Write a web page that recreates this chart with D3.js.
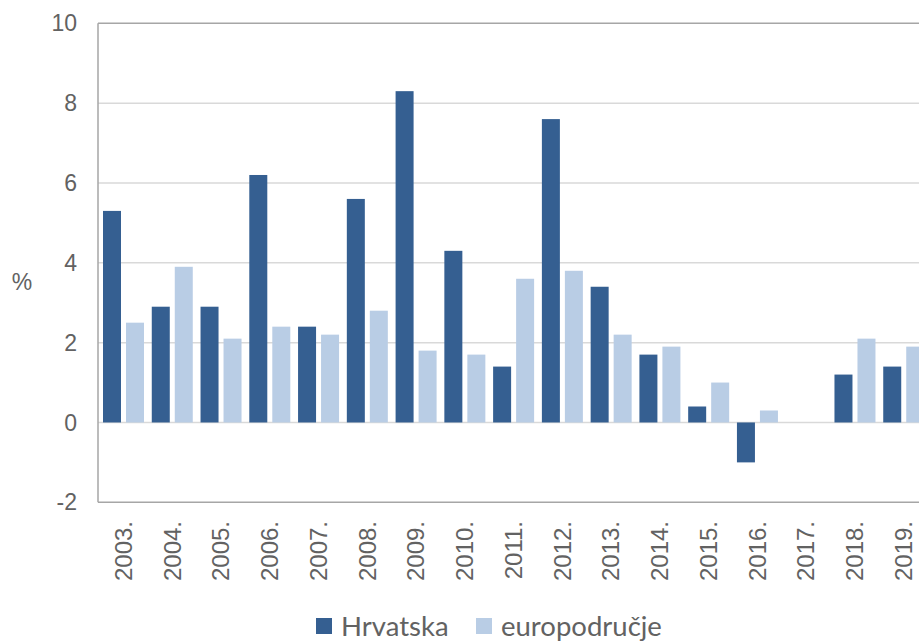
<!DOCTYPE html>
<html><head><meta charset="utf-8">
<script src="https://cdn.jsdelivr.net/npm/d3@7"></script>
<style>body{margin:0;background:#fff;overflow:hidden}svg{display:block}</style>
</head><body>
<script>
const years = ["2003.","2004.","2005.","2006.","2007.","2008.","2009.","2010.","2011.","2012.","2013.","2014.","2015.","2016.","2017.","2018.","2019."];
const seriesNames = ["Hrvatska","europodručje"];
const hrvatska = [5.3,2.9,2.9,6.2,2.4,5.6,8.3,4.3,1.4,7.6,3.4,1.7,0.4,-1.0,null,1.2,1.4];
const euro = [2.5,3.9,2.1,2.4,2.2,2.8,1.8,1.7,3.6,3.8,2.2,1.9,1.0,0.3,null,2.1,1.9];
const yTicks = [-2,0,2,4,6,8,10];
const colors = ["#355F91","#B9CDE5"];

(function(){
const W=919,H=641;
const svg=d3.select("body").append("svg").attr("width",W).attr("height",H);
const pL=98, pR=927, pT=23.3, pB=502.3;
const y=d3.scaleLinear().domain([-2,10]).range([pB,pT]);
const x0=d3.scaleBand().domain(years).range([pL,pR]);
const x1=d3.scaleBand().domain(seriesNames).range([5,46]).paddingInner(5/23);
const txt="#626262";
const ff="Liberation Sans, Arial, sans-serif";

svg.append("g").selectAll("line").data(yTicks.filter(t=>t>-2&&t<10)).join("line")
  .attr("x1",pL).attr("x2",pR).attr("y1",d=>y(d)).attr("y2",d=>y(d))
  .attr("stroke","#d9d9d9").attr("stroke-width",1.5);

const data=[hrvatska,euro];
seriesNames.forEach((s,si)=>{
  svg.append("g").selectAll("rect").data(years.map((yr,i)=>({yr,v:data[si][i]})).filter(d=>d.v!==null)).join("rect")
    .attr("x",d=>x0(d.yr)+x1(s)).attr("width",x1.bandwidth())
    .attr("y",d=>y(Math.max(0,d.v))).attr("height",d=>Math.abs(y(d.v)-y(0)))
    .attr("fill",colors[si]);
});

svg.append("line").attr("x1",pL).attr("x2",pR).attr("y1",pT).attr("y2",pT).attr("stroke","#a6a6a6").attr("stroke-width",1.5);
svg.append("line").attr("x1",pL).attr("x2",pR).attr("y1",pB).attr("y2",pB).attr("stroke","#a6a6a6").attr("stroke-width",1.5);
svg.append("line").attr("x1",pL).attr("x2",pL).attr("y1",pT).attr("y2",pB).attr("stroke","#a6a6a6").attr("stroke-width",1.5);

svg.append("g").selectAll("text").data(yTicks).join("text")
  .attr("x",77).attr("y",d=>y(d)).attr("dy","0.35em").attr("text-anchor","end")
  .attr("font-family",ff).attr("font-size",23).attr("fill",txt)
  .text(d=>d);

svg.append("g").selectAll("text").data(years).join("text")
  .attr("transform",d=>`translate(${x0(d)+x0.bandwidth()/2+1},521) rotate(-90)`)
  .attr("dy","0.35em").attr("text-anchor","end")
  .attr("font-family",ff).attr("font-size",24).attr("fill",txt)
  .text(d=>d);

svg.append("text").attr("x",22).attr("y",282).attr("dy","0.35em").attr("text-anchor","middle")
  .attr("font-family",ff).attr("font-size",23).attr("fill",txt).text("%");

const lg=[{n:seriesNames[0],x:316},{n:seriesNames[1],x:476}];
lg.forEach((l,i)=>{
  svg.append("rect").attr("x",l.x).attr("y",618).attr("width",16).attr("height",16).attr("fill",colors[i]);
  svg.append("text").attr("x",l.x+25).attr("y",626).attr("dy","0.35em")
    .attr("font-family","Lato, sans-serif").attr("font-size",27.5).attr("fill",txt).text(l.n);
});
})();
</script>
</body></html>
